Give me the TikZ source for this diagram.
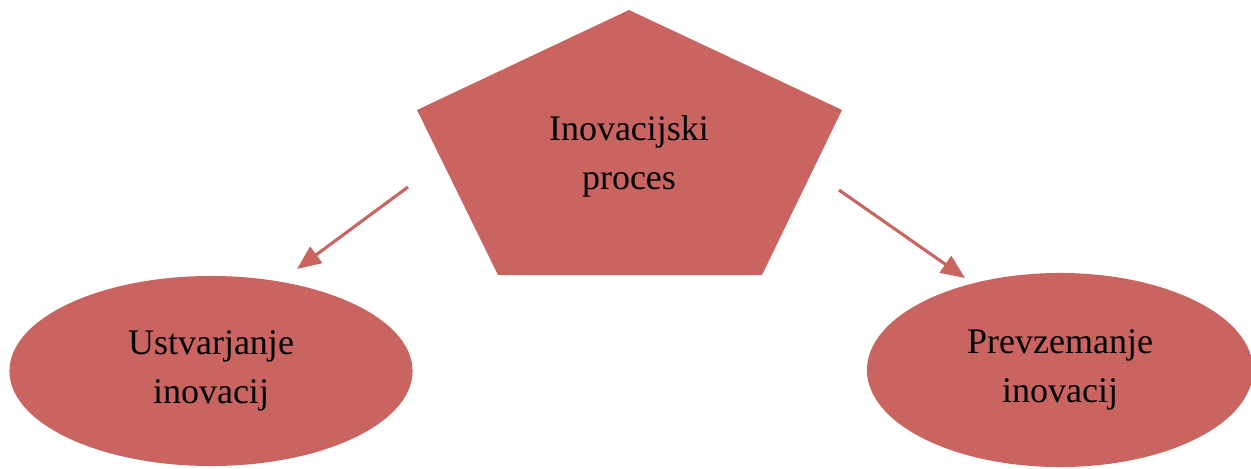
\documentclass[tikz,border=0pt]{standalone}
\usepackage{fontspec}
\setmainfont{Liberation Serif}
\usetikzlibrary{shapes.geometric,arrows.meta}
\definecolor{rose}{RGB}{201,100,96}

\begin{document}
\begin{tikzpicture}[x=0.025cm,y=-0.025cm]
      \useasboundingbox (0,0) rectangle (1251,468);

      \fill[rose] (629,10) -- (842,110) -- (762,275) -- (498,275) -- (417,110) -- cycle;

      \begin{scope}[every node/.style={align=center,font=\fontsize{25.6}{35}\selectfont}]
        \node (proc) at (629,156) {Inovacijski\\proces};
      \end{scope}

      \begin{scope}[every node/.style={ellipse,fill=rose,inner sep=0pt,align=center,font=\fontsize{25.6}{35}\selectfont}]
        \node[minimum width=10.075cm,minimum height=4.75cm] (ustv) at (211,371) {Ustvarjanje\\inovacij};
        \node[minimum width=9.65cm,minimum height=4.85cm] (prev) at (1060,370) {Prevzemanje\\inovacij};
      \end{scope}

      \coordinate (a1) at (408,187);
      \coordinate (a2) at (297,269);
      \coordinate (b1) at (839,190);
      \coordinate (b2) at (965,278);

      \begin{scope}[every edge/.style={draw=rose,line width=2.2pt,-{Triangle[length=0.6cm,width=0.5cm]}}]
        \path (a1) edge (a2);
        \path (b1) edge (b2);
      \end{scope}

\end{tikzpicture}
\end{document}
